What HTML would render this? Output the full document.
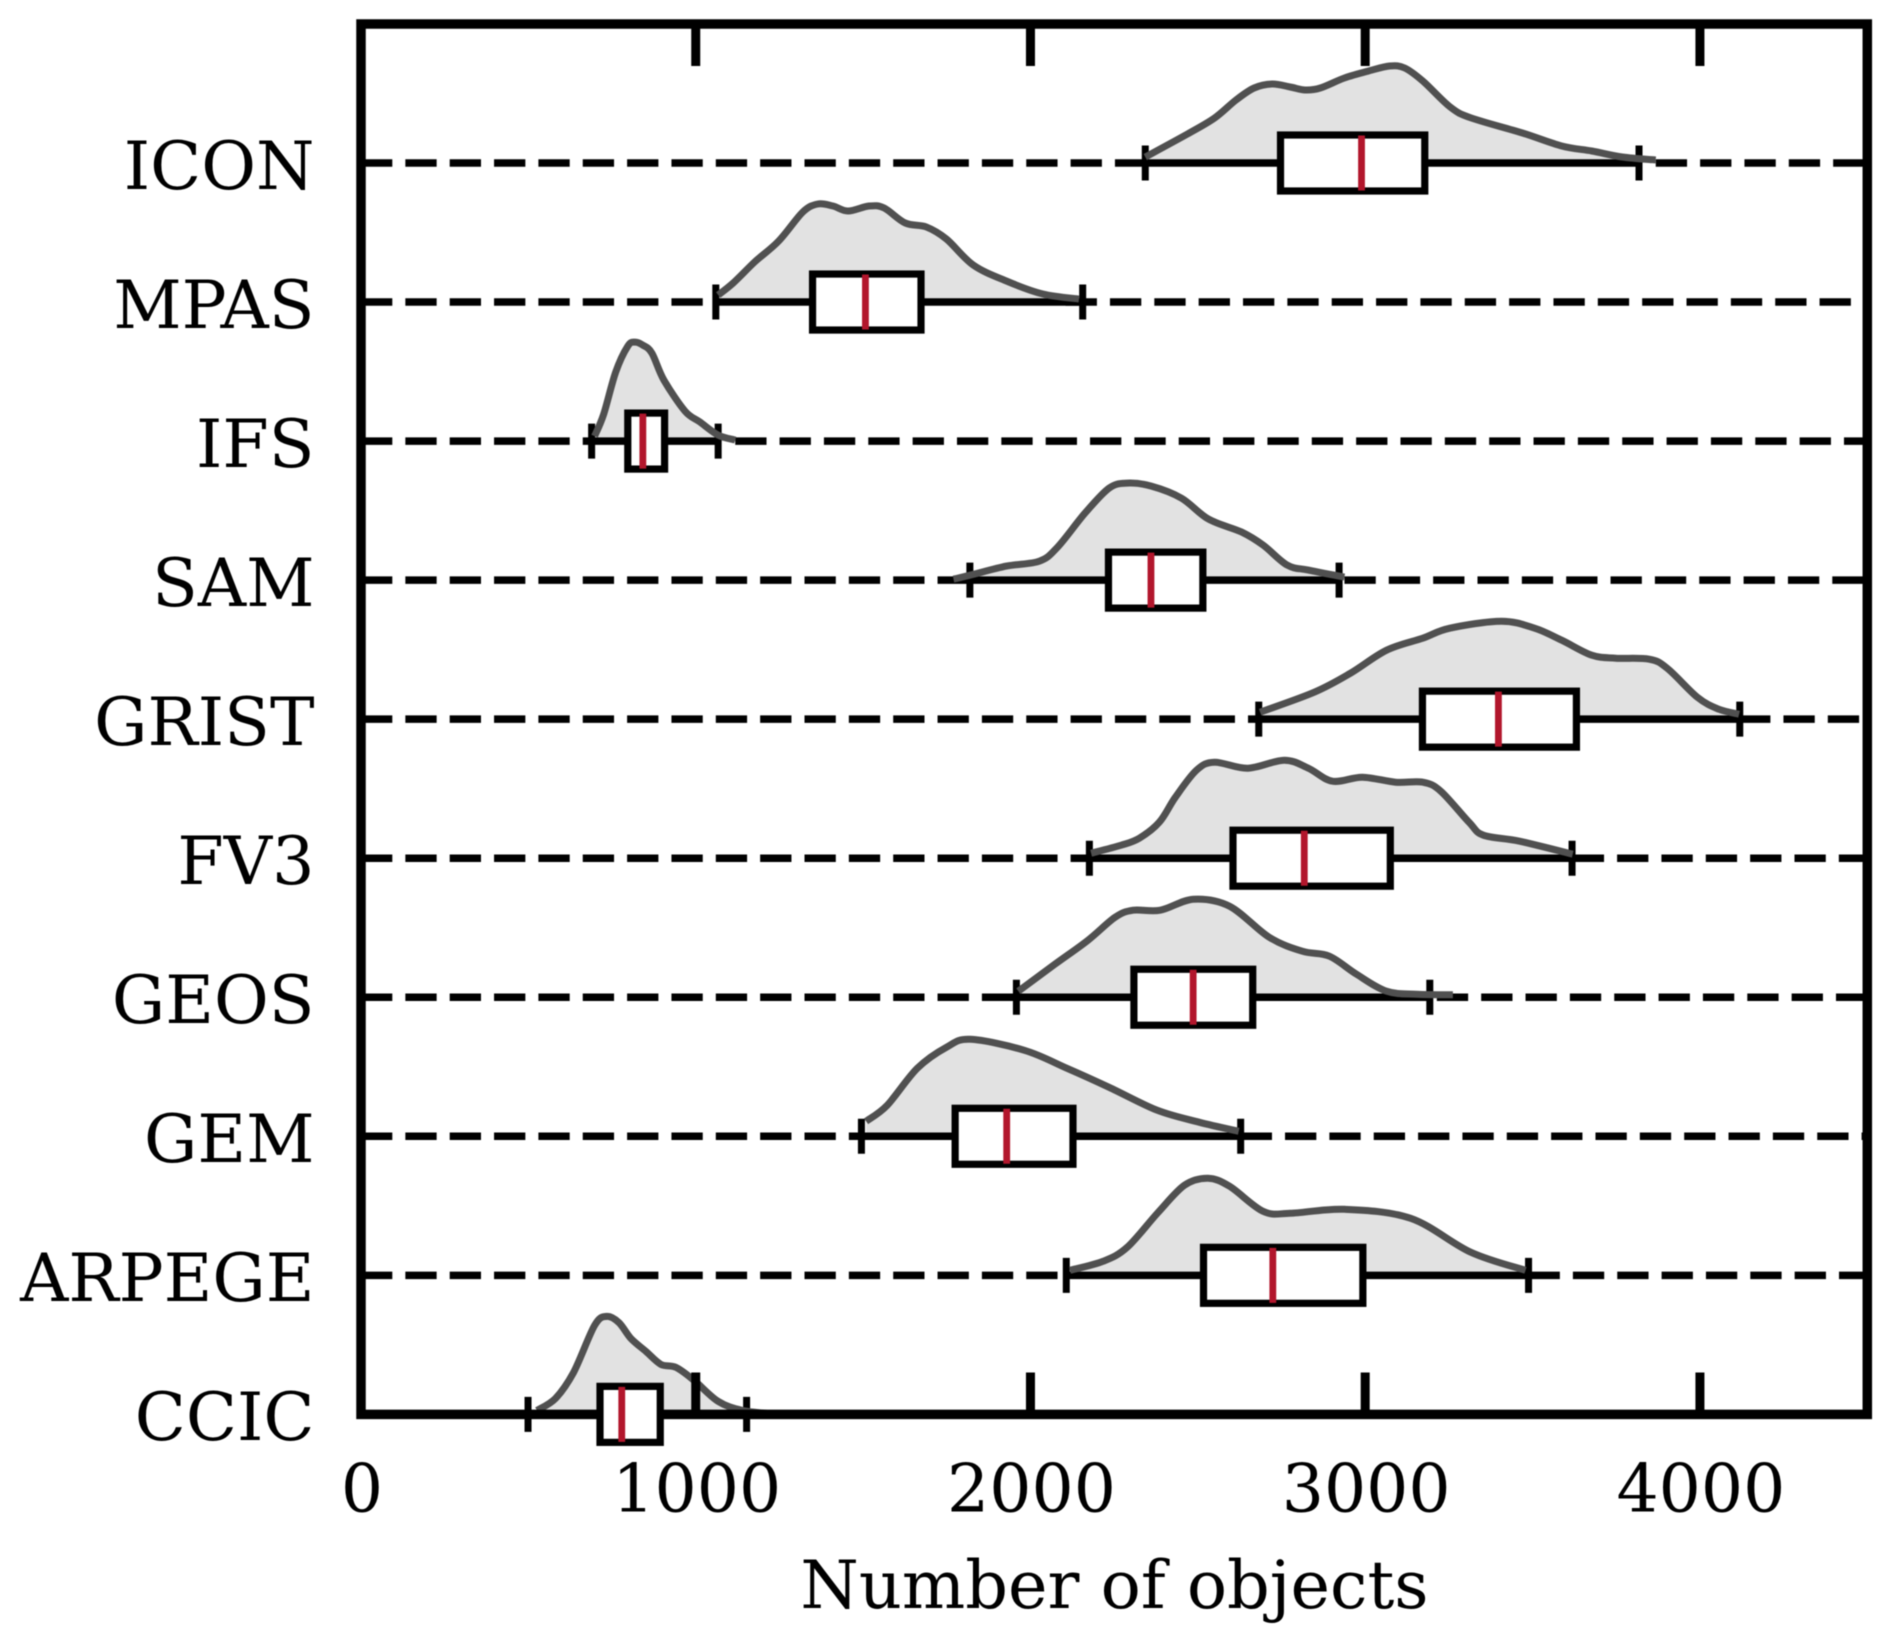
<!DOCTYPE html>
<html lang="en">
<head>
<meta charset="utf-8">
<title>Number of objects by model</title>
<style>
  html, body { margin: 0; padding: 0; background: #fff; }
  svg { display: block; filter: blur(0.5px); }
  text { font-family: "DejaVu Serif", "Liberation Serif", serif; fill: #000; }
</style>
</head>
<body>
<svg id="chart" xmlns="http://www.w3.org/2000/svg" width="1892" height="1644" viewBox="0 0 1892 1644">
  <rect x="0" y="0" width="1892" height="1644" fill="#ffffff"/>
  <g id="layer-fills"></g>
  <g id="layer-rows"></g>
  <g id="layer-whiskers"></g>
  <g id="layer-violins"></g>
  <rect x="361" y="24" width="1506.3" height="1390.4" fill="none" stroke="#000" stroke-width="9.5"/>
  <g id="layer-ticks"></g>
  <g id="layer-boxes"></g>
  <g id="layer-labels"></g>
  <text x="1114.5" y="1608" font-size="66.8" text-anchor="middle">Number of objects</text>
</svg>
<script>
const categories = ["ICON","MPAS","IFS","SAM","GRIST","FV3","GEOS","GEM","ARPEGE","CCIC"];
const xTickValues = [0, 1000, 2000, 3000, 4000];
const whiskerLow  = [2343, 1060, 689, 1819, 2682, 2176, 1958, 1495, 2107, 499];
const quartile1   = [2747, 1349, 797, 2233, 3171, 2605, 2309, 1775, 2517, 714];
const medians     = [2989, 1507, 842, 2360, 3398, 2818, 2486, 1929, 2724, 779];
const quartile3   = [3178, 1673, 907, 2515, 3631, 3075, 2664, 2127, 2993, 894];
const whiskerHigh = [3818, 2156, 1067, 2922, 4119, 3618, 3193, 2628, 3488, 1152];
const guideResume = [3868, 2105, 1118, 2938, 4117, 3620, 3214, 2628, 3488, 1229];

const iconObjects = [2343,2469,2550,2614,2668,2722,2776,2821,2866,2938,3010,3073,3118,3172,3254,3317,3470,3587,3677,3768,3868];
const iconDensity = [6,29,45,63,75,79,76,73,75,85,92,97,95,82,56,45,30,17,12,6,3];
const mpasObjects = [1067,1112,1176,1248,1320,1365,1410,1455,1518,1563,1626,1689,1749,1829,1928,2037,2145];
const mpasDensity = [7,19,40,61,90,98,96,91,96,94,79,75,63,37,21,8,3];
const ifsObjects = [698,725,761,797,818,842,869,905,968,1013,1067,1118];
const ifsDensity = [5,27,69,95,99,96,88,61,30,19,6,1];
const samObjects = [1770,1820,1928,2027,2081,2163,2235,2289,2361,2451,2532,2631,2695,2767,2830,2938];
const samDensity = [1,5,14,19,33,67,92,97,94,82,61,48,35,15,10,3];
const gristObjects = [2686,2848,2956,3064,3172,3253,3407,3506,3587,3677,3749,3848,3902,3992,4056,4117];
const gristDensity = [7,27,46,69,81,91,98,91,79,64,61,60,51,22,10,5];
const fv3Objects = [2181,2271,2325,2385,2433,2496,2550,2649,2758,2830,2902,2992,3091,3172,3226,3310,3353,3461,3620];
const fv3Density = [5,13,20,36,61,88,96,90,98,90,77,81,76,76,67,36,23,17,4];
const geosObjects = [1964,2073,2172,2253,2307,2388,2487,2595,2713,2812,2893,2974,3064,3154,3262];
const geosDensity = [6,33,57,80,87,87,98,91,60,46,41,23,6,3,2.5];
const gemObjects = [1509,1572,1662,1749,1820,1982,2109,2235,2379,2505,2622];
const gemDensity = [15,31,68,89,97,86,68,49,26,14,5];
const arpegeObjects = [2118,2217,2289,2379,2460,2530,2595,2695,2776,2938,3136,3316,3479];
const arpegeDensity = [5,14,28,62,90,97,89,64,62,66,57,23,5];
const ccicObjects = [526,581,635,698,734,770,806,851,896,941,995,1067,1139,1229];
const ccicDensity = [4,16,42,89,98,92,76,63,50,47,34,13,4,0.5];

const violinObjects = [iconObjects, mpasObjects, ifsObjects, samObjects, gristObjects, fv3Objects, geosObjects, gemObjects, arpegeObjects, ccicObjects];
const violinDensity = [iconDensity, mpasDensity, ifsDensity, samDensity, gristDensity, fv3Density, geosDensity, gemDensity, arpegeDensity, ccicDensity];

const NS = "http://www.w3.org/2000/svg";
const X_MAX = 4500;
function xScale(v) { return 361 + (v / X_MAX) * 1506.3; }
function yScale(i) { return 163 + i * 139.04; }
function densityScale(d) { return d * 1.0; }

function make(tag, attrs, parent) {
  const el = document.createElementNS(NS, tag);
  for (const k in attrs) el.setAttribute(k, attrs[k]);
  parent.appendChild(el);
  return el;
}
function smoothPath(pts) {
  let d = "M" + pts[0][0].toFixed(1) + " " + pts[0][1].toFixed(1);
  for (let i = 0; i < pts.length - 1; i++) {
    const p0 = pts[Math.max(i - 1, 0)], p1 = pts[i], p2 = pts[i + 1], p3 = pts[Math.min(i + 2, pts.length - 1)];
    const c1x = p1[0] + (p2[0] - p0[0]) / 6, c1y = p1[1] + (p2[1] - p0[1]) / 6;
    const c2x = p2[0] - (p3[0] - p1[0]) / 6, c2y = p2[1] - (p3[1] - p1[1]) / 6;
    d += "C" + c1x.toFixed(1) + " " + c1y.toFixed(1) + " " + c2x.toFixed(1) + " " + c2y.toFixed(1) + " " + p2[0].toFixed(1) + " " + p2[1].toFixed(1);
  }
  return d;
}

const layerFills = document.getElementById("layer-fills");
const layerRows = document.getElementById("layer-rows");
const layerWhiskers = document.getElementById("layer-whiskers");
const layerViolins = document.getElementById("layer-violins");
const layerTicks = document.getElementById("layer-ticks");
const layerBoxes = document.getElementById("layer-boxes");
const layerLabels = document.getElementById("layer-labels");

categories.forEach(function (name, i) {
  const y = yScale(i);
  const key = name.toLowerCase();

  const guideLeft = make("line", { x1: xScale(0), x2: xScale(whiskerLow[i]), y1: y, y2: y, stroke: "#000", "stroke-width": 7.5, "stroke-dasharray": "31.3 13.05" }, layerRows);
  
  

  const guideRight = make("line", { x1: xScale(guideResume[i]), x2: xScale(X_MAX), y1: y, y2: y, stroke: "#000", "stroke-width": 7.5, "stroke-dasharray": "31.3 13.05" }, layerRows);
  
  

  const whisker = make("line", { x1: xScale(whiskerLow[i]), x2: xScale(whiskerHigh[i]), y1: y, y2: y, stroke: "#000", "stroke-width": 7.5 }, layerWhiskers);
  
  

  [whiskerLow[i], whiskerHigh[i]].forEach(function (v, j) {
    const cap = make("line", { x1: xScale(v), x2: xScale(v), y1: y - 17.5, y2: y + 17.5, stroke: "#000", "stroke-width": 7 }, layerWhiskers);
    
    
  });

  const pts = violinObjects[i].map(function (v, j) { return [xScale(v), y - densityScale(violinDensity[i][j])]; });
  const curve = smoothPath(pts);
  const last = pts[pts.length - 1], first = pts[0];
  const fill = make("path", { d: curve + "L" + last[0].toFixed(1) + " " + y + "L" + first[0].toFixed(1) + " " + y + "Z", fill: "#e2e2e2" }, layerFills);
  
  

  const outline = make("path", { d: curve, fill: "none", stroke: "#505050", "stroke-width": 7, "stroke-linejoin": "round" }, layerViolins);
  
  

  const box = make("rect", { x: xScale(quartile1[i]), y: y - 28, width: xScale(quartile3[i]) - xScale(quartile1[i]), height: 56, fill: "#fff", stroke: "#000", "stroke-width": 7.2 }, layerBoxes);
  
  

  const median = make("line", { x1: xScale(medians[i]), x2: xScale(medians[i]), y1: y - 27.5, y2: y + 27.5, stroke: "#b2162c", "stroke-width": 6.8 }, layerBoxes);
  
  

  const label = make("text", { x: 314.5, y: y + 25.8, "font-size": 66.8, "text-anchor": "end" }, layerLabels);
  label.textContent = name;
  
  
});

xTickValues.forEach(function (v) {
  const x = xScale(v);
  const topTick = make("line", { x1: x, x2: x, y1: 24, y2: 66, stroke: "#000", "stroke-width": 9 }, layerTicks);
  
  

  const bottomTick = make("line", { x1: x, x2: x, y1: 1372.5, y2: 1414.4, stroke: "#000", "stroke-width": 9 }, layerTicks);
  
  

  const tickLabel = make("text", { x: x + 1, y: 1511.5, "font-size": 66.4, "text-anchor": "middle" }, layerLabels);
  tickLabel.textContent = String(v);
  
  
});
</script>
</body>
</html>
